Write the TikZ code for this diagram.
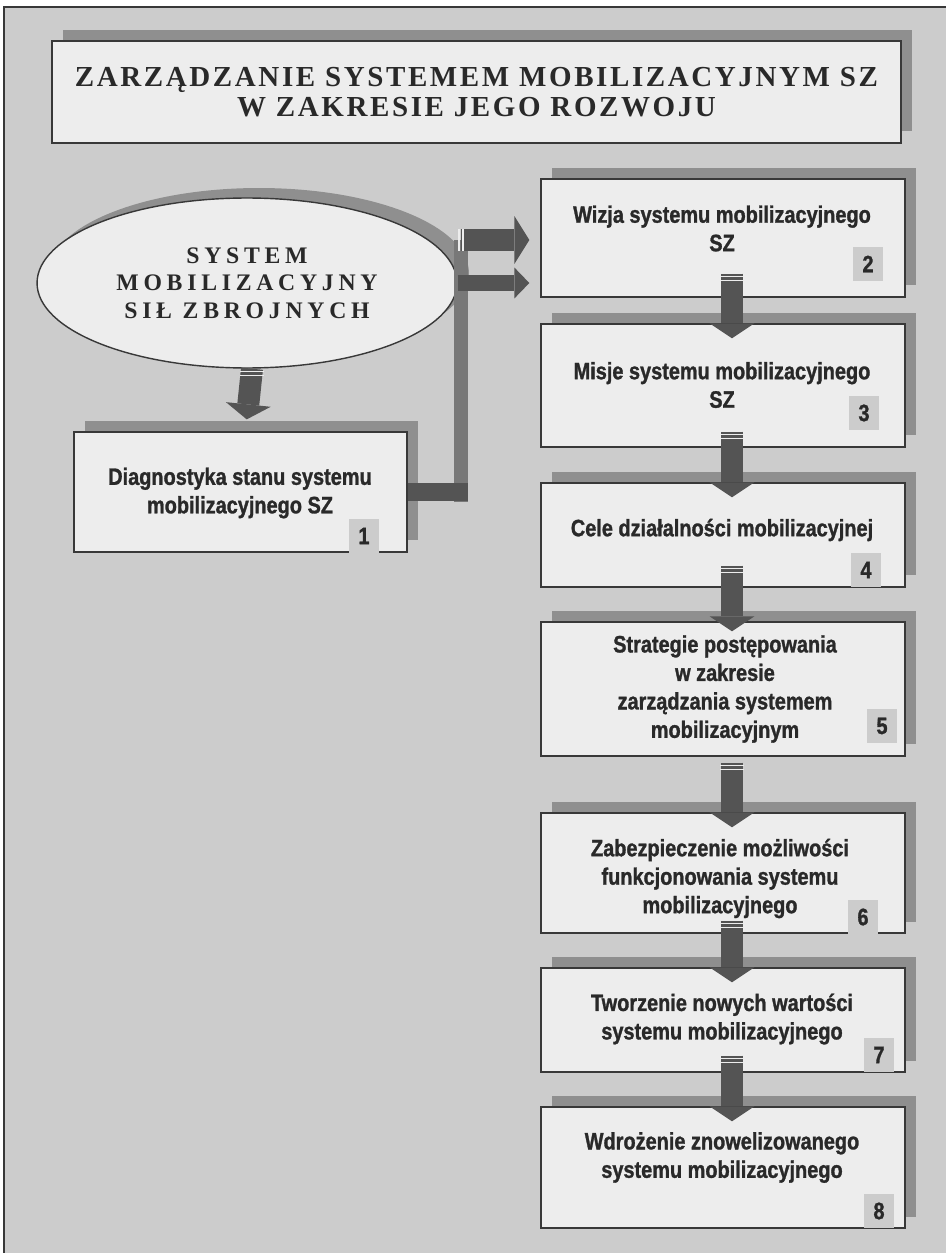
\documentclass[tikz,border=0pt]{standalone}
\usepackage{fontspec}
\usepackage{tikz}
\usetikzlibrary{arrows.meta,calc,positioning,shapes.geometric,shadows}
\newfontfamily\boxfont{Liberation Sans}[FakeStretch=0.84,FakeBold=1.2]
\newfontfamily\titlefont{Liberation Serif}[LetterSpace=9]
\newfontfamily\ellfont{Liberation Serif}[LetterSpace=20]
\definecolor{pagegray}{gray}{0.80}
\definecolor{boxfill}{gray}{0.93}
\definecolor{shadegray}{gray}{0.56}
\definecolor{arrowgray}{gray}{0.33}
\definecolor{bargray}{gray}{0.47}
\definecolor{badgegray}{gray}{0.80}
\definecolor{edgegray}{gray}{0.22}
\definecolor{inkgray}{gray}{0.16}
\tikzset{
  shadowed/.style={drop shadow={shadow xshift=0.22cm,shadow yshift=0.23cm,fill=shadegray,opacity=1}},
  stage/.style={rectangle,draw=edgegray,line width=0.8pt,fill=boxfill,shadowed,minimum width=7.28cm,inner sep=0pt},
  stagetext/.style={align=center,text=inkgray,inner sep=0pt,font=\boxfont\bfseries\fontsize{13.5}{16.2}\selectfont},
  badge/.style={fill=badgegray,minimum width=0.6cm,minimum height=0.68cm,inner sep=0pt,text=inkgray,font=\boxfont\bfseries\fontsize{13.5}{14}\selectfont},
  flow/.style={draw=arrowgray,line width=0.44cm,arrows=-{Triangle[width=0.9cm,length=0.3cm,line width=0pt]},shorten <=-0.36cm,shorten >=-0.3cm},
  bar/.style={draw=bargray,line width=0.28cm},
  gapline/.style={draw=boxfill,line width=0.7pt}
}
\newcommand{\tailgaps}[3]{\draw[gapline] ($(#1)+(#2-12,#3+3)$) -- ++(24,0) ($(#1)+(#2-12,#3+7)$) -- ++(24,0);}
\begin{document}
\begin{tikzpicture}[x=0.02cm,y=-0.02cm]
\useasboundingbox (0,0) rectangle (946,1253);
\fill[pagegray] (4,7) rectangle (946,1253);
\draw[edgegray,line width=0.6pt] (4,1253) -- (4,7) -- (946,7);
\node[rectangle,draw=edgegray,line width=0.8pt,fill=boxfill,shadowed,minimum width=16.98cm,minimum height=2.04cm,
  align=center,text=inkgray,font=\titlefont\bfseries\fontsize{16.5}{17.2}\selectfont] (title) at (476.5,92)
  {ZARZĄDZANIE SYSTEMEM MOBILIZACYJNYM SZ\\W ZAKRESIE JEGO ROZWOJU};
\node[ellipse,draw=edgegray,line width=0.8pt,fill=boxfill,
  drop shadow={shadow xshift=0.24cm,shadow yshift=0.2cm,fill=shadegray,opacity=1},
  minimum width=8.4cm,minimum height=3.4cm,inner sep=0pt,align=center,text=inkgray,
  font=\ellfont\bfseries\fontsize{13.5}{15.6}\selectfont] (ell) at (247,283) {SYSTEM\\MOBILIZACYJNY\\SIŁ ZBROJNYCH};
\node[stage,minimum width=6.66cm,minimum height=2.4cm] (b1) at (240.5,492) {};
\node[stage,minimum height=2.36cm] (b2) at (723,238) {};
\node[stage,minimum height=2.46cm] (b3) at (723,385.5) {};
\node[stage,minimum height=2.08cm] (b4) at (723,535) {};
\node[stage,minimum height=2.68cm] (b5) at (723,689) {};
\node[stage,minimum height=2.40cm] (b6) at (723,873) {};
\node[stage,minimum height=2.08cm] (b7) at (723,1020) {};
\node[stage,minimum height=2.42cm] (b8) at (723,1167.5) {};
\node[stagetext] (t1) at (240,493) {Diagnostyka stanu systemu\\mobilizacyjnego SZ};
\node[stagetext] (t2) at (722,228.5) {Wizja systemu mobilizacyjnego\\SZ};
\node[stagetext] (t3) at (722,385) {Misje systemu mobilizacyjnego\\SZ};
\node[stagetext] (t4) at (722,530) {Cele działalności mobilizacyjnej};
\node[stagetext] (t5) at (725,689) {Strategie postępowania\\w zakresie\\zarządzania systemem\\mobilizacyjnym};
\node[stagetext] (t6) at (720,878.5) {Zabezpieczenie możliwości\\funkcjonowania systemu\\mobilizacyjnego};
\node[stagetext] (t7) at (722,1019) {Tworzenie nowych wartości\\systemu mobilizacyjnego};
\node[stagetext] (t8) at (722,1157.5) {Wdrożenie znowelizowanego\\systemu mobilizacyjnego};
\node[badge] (n1) at (364,536) {1};
\node[badge] (n2) at (868,264) {2};
\node[badge] (n3) at (864,413) {3};
\node[badge] (n4) at (866,570) {4};
\node[badge] (n5) at (882,726) {5};
\node[badge] (n6) at (863,917) {6};
\node[badge] (n7) at (879,1055) {7};
\node[badge] (n8) at (879,1211) {8};
\coordinate (jn) at (461,240);
\path[bar,shorten <=-0.2cm] (b1.east -| jn) -- (jn);
\path[bar,draw=arrowgray,line width=0.36cm,shorten >=-0.14cm] (b1.east) -- (b1.east -| jn);
\path[flow,arrows=-{Triangle[width=0.96cm,length=0.3cm,line width=0pt]},shorten <=0pt,shorten >=0.22cm] (jn) -- (jn -| b2.west);
\draw[gapline] ($(jn)+(-2,-11)$) -- ++(0,22) ($(jn)+(2,-11)$) -- ++(0,22);
\path[flow,line width=0.32cm,arrows=-{Triangle[width=0.62cm,length=0.3cm,line width=0pt]},shorten <=0pt,shorten >=0.22cm] (ell.east) -- (ell.east -| b2.west);
\path[flow,shorten <=0pt,shorten >=0.24cm] ([xshift=0.1cm]ell.south) -- ([xshift=0.1cm]b1.north);
\tailgaps{ell.south}{5}{0}
\path[flow,shorten <=-0.48cm] ([xshift=0.18cm]b2.south) -- ([xshift=0.18cm]b3.north);
\path[flow,shorten <=-0.32cm] ([xshift=0.18cm]b3.south) -- ([xshift=0.18cm]b4.north);
\path[flow,shorten <=-0.44cm,shorten >=-0.2cm] ([xshift=0.18cm]b4.south) -- ([xshift=0.18cm]b5.north);
\path[flow,shorten <=0.12cm] ([xshift=0.18cm]b5.south) -- ([xshift=0.18cm]b6.north);
\path[flow,shorten <=-0.26cm] ([xshift=0.18cm]b6.south) -- ([xshift=0.18cm]b7.north);
\path[flow,shorten <=-0.34cm] ([xshift=0.18cm]b7.south) -- ([xshift=0.18cm]b8.north);
\tailgaps{b2.south}{9}{-24}
\tailgaps{b3.south}{9}{-16}
\tailgaps{b4.south}{9}{-22}
\tailgaps{b5.south}{9}{6}
\tailgaps{b6.south}{9}{-13}
\tailgaps{b7.south}{9}{-17}
\end{tikzpicture}
\end{document}
